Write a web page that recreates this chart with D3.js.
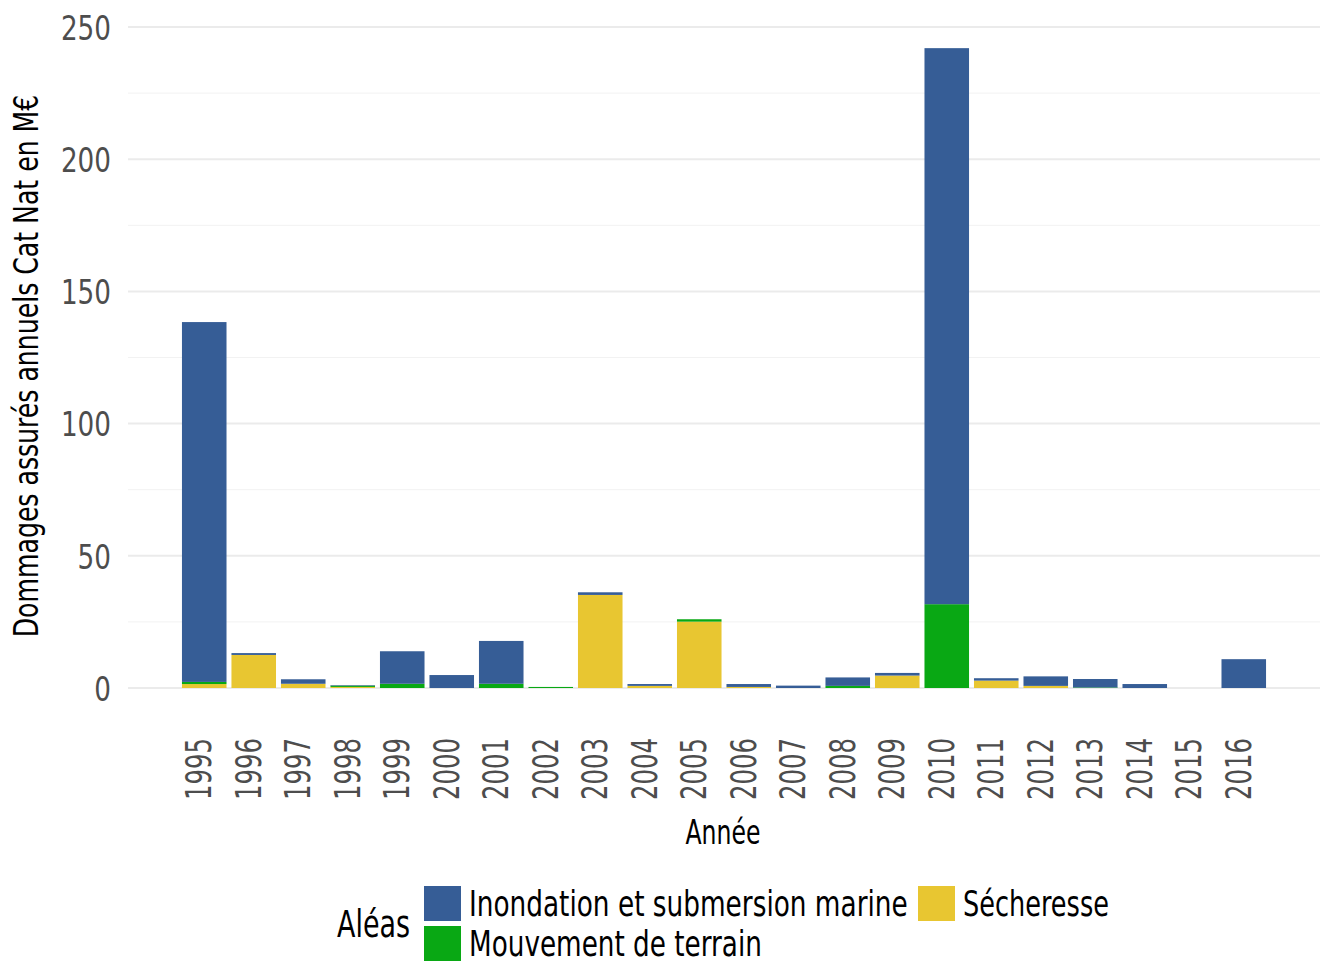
<!DOCTYPE html>
<html>
<head>
<meta charset="utf-8">
<script src="https://cdnjs.cloudflare.com/ajax/libs/d3/7.8.5/d3.min.js"></script>
<style>
  body { margin: 0; background: #fff; }
  svg { display: block; }
  text { font-family: "DejaVu Sans", sans-serif; font-stretch: condensed; }
</style>
</head>
<body>
<svg id="chart" width="1335" height="964"></svg>
<script>
const years = ["1995","1996","1997","1998","1999","2000","2001","2002","2003","2004","2005",
               "2006","2007","2008","2009","2010","2011","2012","2013","2014","2015","2016"];
// stacked from bottom to top: sécheresse, mouvement, inondation
const secheresse = [1.5, 12.5, 1.6, 0.4, 0, 0, 0, 0, 35.2, 0.8, 25.1, 0.4, 0, 0, 4.7, 0, 2.8, 0.8, 0, 0, 0, 0];
const mouvement  = [0.8, 0, 0, 0.5, 1.6, 0, 1.6, 0.4, 0, 0, 0.9, 0, 0, 0.8, 0, 31.7, 0, 0, 0.2, 0, 0, 0];
const inondation = [136.1, 0.7, 1.7, 0.2, 12.3, 4.9, 16.2, 0, 1.0, 0.7, 0, 1.1, 0.9, 3.2, 1.0, 210.3, 0.9, 3.6, 3.2, 1.5, 0, 10.9];
const seriesKeys = ["secheresse", "mouvement", "inondation"];
const seriesLabels = {inondation: "Inondation et submersion marine", secheresse: "Sécheresse", mouvement: "Mouvement de terrain"};
const colors = {inondation: "#365d96", secheresse: "#e8c631", mouvement: "#09a814"};
const yTicks = [0, 50, 100, 150, 200, 250];
const yMinor = [25, 75, 125, 175, 225];

const rows = years.map((y, i) => ({year: y, secheresse: secheresse[i], mouvement: mouvement[i], inondation: inondation[i]}));

const svg = d3.select("#chart");
const plotLeft = 128, plotRight = 1320, plotTop = 27, plotBottom = 688;

const x = d3.scaleBand().domain(years).range([plotLeft, plotRight]).paddingInner(0.1).paddingOuter(1.09);
const y = d3.scaleLinear().domain([0, 250]).range([plotBottom, plotTop]);

// horizontal squeeze factor so a text spans `target` px (the original face is very narrow)
function squeeze(node, target) {
  return target / node.getComputedTextLength();
}

// grid
const grid = svg.append("g");
grid.selectAll(".minor").data(yMinor).enter().append("line")
    .attr("x1", plotLeft).attr("x2", plotRight)
    .attr("y1", d => y(d)).attr("y2", d => y(d))
    .attr("stroke", "#f2f2f2").attr("stroke-width", 1);
grid.selectAll(".major").data(yTicks).enter().append("line")
    .attr("x1", plotLeft).attr("x2", plotRight)
    .attr("y1", d => y(d)).attr("y2", d => y(d))
    .attr("stroke", "#ebebeb").attr("stroke-width", 2);

// bars
const stacked = d3.stack().keys(seriesKeys)(rows);
svg.append("g").selectAll("g")
    .data(stacked)
    .enter().append("g")
    .attr("fill", d => colors[d.key])
    .selectAll("rect")
    .data(d => d)
    .enter().append("rect")
    .attr("x", d => x(d.data.year))
    .attr("width", x.bandwidth())
    .attr("y", d => y(d[1]))
    .attr("height", d => y(d[0]) - y(d[1]));

// y axis labels
const yAxis = svg.append("g")
    .attr("transform", `translate(${plotLeft - 17},0)`)
    .call(d3.axisLeft(y).tickValues(yTicks).tickSize(0).tickPadding(0));
yAxis.select(".domain").remove();
yAxis.attr("font-family", null);
yAxis.selectAll("text")
    .attr("font-size", 34).attr("fill", "#4d4d4d")
    .attr("dy", "0.36em")
    .attr("transform", function(d) { return `scale(${squeeze(this, String(d).length * 16.7)},1)`; });

// x axis labels
const xAxis = svg.append("g")
    .attr("transform", `translate(0,${plotBottom + 50})`)
    .call(d3.axisBottom(x).tickSize(0).tickPadding(0));
xAxis.select(".domain").remove();
xAxis.attr("font-family", null);
xAxis.selectAll("text")
    .attr("font-size", 35).attr("fill", "#4d4d4d")
    .attr("text-anchor", "end")
    .attr("x", 0).attr("y", 0).attr("dx", 0).attr("dy", "0.2em")
    .attr("transform", function() { return `rotate(-90) scale(${squeeze(this, 62)},1)`; });

// titles
const xTitle = svg.append("text")
    .attr("text-anchor", "middle").attr("font-size", 33).attr("fill", "#000")
    .text("Année");
xTitle.attr("transform", `translate(723,844) scale(${squeeze(xTitle.node(), 75)},1)`);

const yTitle = svg.append("text")
    .attr("text-anchor", "middle").attr("font-size", 33).attr("fill", "#000")
    .text("Dommages assurés annuels Cat Nat en M€");
yTitle.attr("transform", `translate(38,366) rotate(-90) scale(${squeeze(yTitle.node(), 543)},1)`);

// legend
const legend = svg.append("g");
const legendTitle = legend.append("text")
    .attr("font-size", 37).attr("fill", "#000")
    .text("Aléas");
legendTitle.attr("transform", `translate(337,937) scale(${squeeze(legendTitle.node(), 73)},1)`);

const legendItems = [
  {key: "inondation", x: 424, y: 886, w: 439},
  {key: "secheresse", x: 918, y: 886, w: 146},
  {key: "mouvement", x: 424, y: 926, w: 293}
];
const li = legend.selectAll(".item").data(legendItems).enter().append("g")
    .attr("transform", d => `translate(${d.x},${d.y})`);
li.append("rect").attr("width", 37).attr("height", 35).attr("fill", d => colors[d.key]);
li.append("text").attr("font-size", 36).attr("fill", "#000")
    .text(d => seriesLabels[d.key])
    .attr("transform", function(d) { return `translate(45,30) scale(${squeeze(this, d.w)},1)`; });
</script>
</body>
</html>
